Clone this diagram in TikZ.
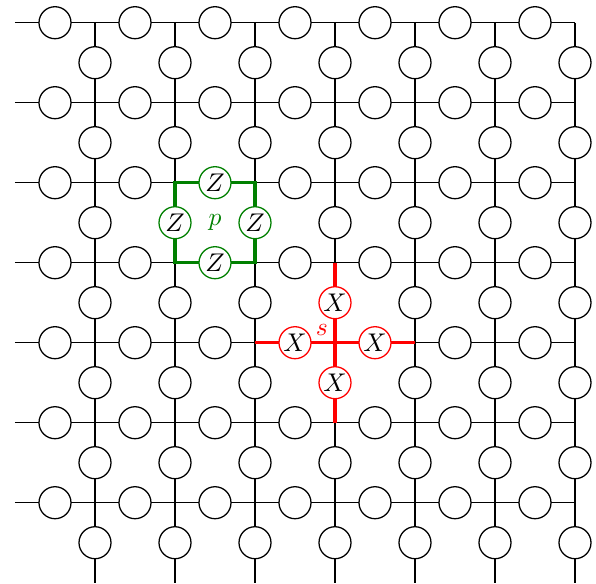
\documentclass[tikz,border=0pt]{standalone}
\usepackage{amsmath,amssymb}
\usepackage{xcolor}
\usepackage{tikz}
\usetikzlibrary{positioning, calc}
\colorlet{plaqgreen}{green!50!black}
\tikzstyle{edge} = [line width=0.5pt, draw=black]
\tikzstyle{qubit} = [circle, draw=black, fill=white, line width=0.5pt,
    minimum size=0.44cm, inner sep=0pt]
\tikzstyle{zqubit} = [qubit, draw=plaqgreen, execute at begin node={$Z$}]
\tikzstyle{xqubit} = [qubit, draw=red, execute at begin node={$X$}]
\tikzstyle{plaqline} = [line width=1.25pt, draw=plaqgreen]
\tikzstyle{starline} = [line width=1.25pt, draw=red]
% qubits acted on by the plaquette and star operators
\tikzset{sel h32/.style={zqubit}, sel h33/.style={zqubit},
    sel u22/.style={zqubit}, sel u32/.style={zqubit},
    sel h44/.style={xqubit}, sel h54/.style={xqubit},
    sel u43/.style={xqubit}, sel u44/.style={xqubit}}

\begin{document}
\begin{tikzpicture}[x=1.1cm, y=1.1cm]
  \useasboundingbox (-0.1875,0.284) rectangle (7.2625,-7.016);
  % Lattice vertices
  \foreach \i in {0,...,7}
    \foreach \j in {0,...,7}
      \coordinate (v\i\j) at (\i,-\j);

  % Lattice edges
  \foreach \j in {0,...,6}
    \draw[edge](v0\j)--(v7\j);
  \foreach \i in {1,...,7}
    \draw[edge](v\i0)--(v\i7);

  % Plaquette p and star s
  \draw[plaqline](v22) rectangle (v33);
  \draw[starline](v34)--(v54) (v43)--(v45);

  % Qubits on the edges
  \foreach \i in {1,...,7}
    \foreach \j in {0,...,6} {
      \node[qubit, sel h\i\j/.try](h\i\j) at ($(v\i\j)-(0.5,0)$){};
      \node[qubit, sel u\i\j/.try](u\i\j) at ($(v\i\j)-(0,0.5)$){};
    }

  % Labels
  \node[text=plaqgreen](plabel) at ($(v22)!0.5!(v33)$){$p$};
  \node[text=red, inner sep=2pt, above left=0.8pt of v44](slabel){$s$};
\end{tikzpicture}
\end{document}
